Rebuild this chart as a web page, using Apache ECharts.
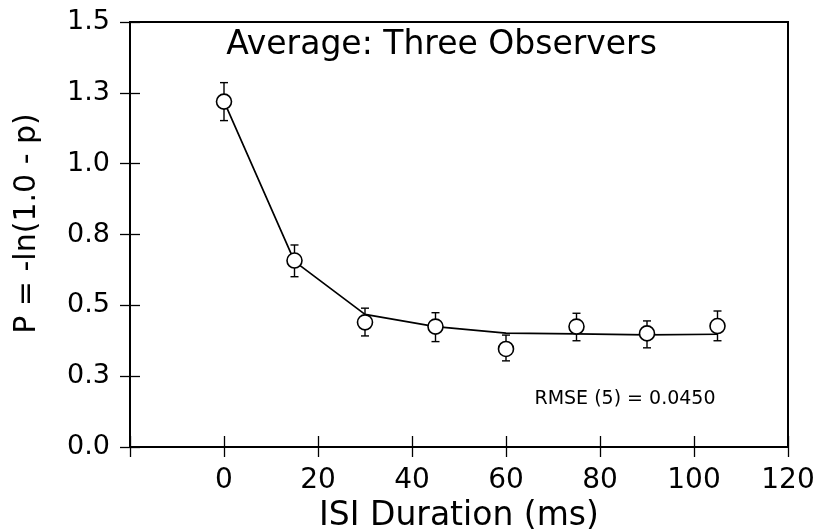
<!DOCTYPE html>
<html>
<head>
<meta charset="utf-8">
<script src="https://cdn.jsdelivr.net/npm/echarts@6/dist/echarts.min.js"></script>
<style>
html,body{margin:0;padding:0;background:#fff;}
#chart{width:818px;height:529px;}
</style>
</head>
<body>
<div id="chart"></div>
<script>
// ---- data ----
var isiDurations = [0, 15, 30, 45, 60, 75, 90, 105];
var meanP       = [1.219, 0.658, 0.440, 0.425, 0.346, 0.425, 0.401, 0.427];
var errLow      = [1.152, 0.601, 0.392, 0.372, 0.304, 0.375, 0.350, 0.375];
var errHigh     = [1.286, 0.713, 0.490, 0.474, 0.395, 0.472, 0.445, 0.480];
var fitP        = [1.220, 0.655, 0.468, 0.425, 0.402, 0.399, 0.396, 0.398];
var xTickValues = [-20, 0, 20, 40, 60, 80, 100, 120];
var xTickLabels = ['', '0', '20', '40', '60', '80', '100', '120'];
var yTickValues = [0, 0.25, 0.5, 0.75, 1.0, 1.25, 1.5];
var yTickLabels = ['0.0', '0.3', '0.5', '0.8', '1.0', '1.3', '1.5'];
var titleText = 'Average: Three Observers';
var rmseText = 'RMSE (5) = 0.0450';
var xName = 'ISI Duration (ms)';
var yName = 'P = -ln(1.0 - p)';

var FONT = 'DejaVu Sans';
function lookup(values, labels, v) {
  for (var i = 0; i < values.length; i++) {
    if (Math.abs(values[i] - v) < 1e-6) return labels[i];
  }
  return '';
}

var points = isiDurations.map(function (x, i) { return [x, meanP[i]]; });
var fitLine = isiDurations.map(function (x, i) { return [x, fitP[i]]; });
var bars = isiDurations.map(function (x, i) { return [x, errLow[i], errHigh[i]]; });

var chart = echarts.init(document.getElementById('chart'), null, {renderer: 'canvas'});
var baseX = {
  type: 'value', min: -20, max: 120, interval: 20, position: 'bottom', gridIndex: 0,
  splitLine: {show: false}
};
var baseY = {
  type: 'value', min: 0, max: 1.5, interval: 0.25, position: 'left', gridIndex: 0,
  splitLine: {show: false}
};
var option = {
  backgroundColor: '#ffffff',
  animation: false,
  grid: {left: 130, right: 30, top: 22, bottom: 82, show: true, containLabel: false,
         outerBoundsMode: 'none',
         borderColor: '#000', borderWidth: 2, backgroundColor: 'transparent'},
  xAxis: [
    Object.assign({}, baseX, {
      name: xName, nameLocation: 'middle', nameGap: 51,
      nameTextStyle: {fontFamily: FONT, fontSize: 33, color: '#000'},
      axisLine: {show: true, onZero: false, lineStyle: {color: '#000', width: 2}},
      axisTick: {show: true, inside: false, length: 10, lineStyle: {color: '#000', width: 1.3}},
      axisLabel: {show: true, margin: 20, fontFamily: FONT, fontSize: 28, color: '#000',
        formatter: function (v) { return lookup(xTickValues, xTickLabels, v); }}
    }),
    Object.assign({}, baseX, {
      axisLine: {show: false, onZero: false},
      axisTick: {show: true, inside: true, length: 11, lineStyle: {color: '#000', width: 1.3}},
      axisLabel: {show: false}
    })
  ],
  yAxis: [
    Object.assign({}, baseY, {
      name: yName, nameLocation: 'middle', nameGap: 88,
      nameTextStyle: {fontFamily: FONT, fontSize: 30, color: '#000', padding: [0, 0, 0, 22]},
      axisLine: {show: true, onZero: false, lineStyle: {color: '#000', width: 2}},
      axisTick: {show: true, inside: false, length: 10, lineStyle: {color: '#000', width: 1.3}},
      axisLabel: {show: true, margin: 20, fontFamily: FONT, fontSize: 27, color: '#000',
        formatter: function (v) { return lookup(yTickValues, yTickLabels, v); }}
    }),
    Object.assign({}, baseY, {
      axisLine: {show: false, onZero: false},
      axisTick: {show: true, inside: true, length: 10, lineStyle: {color: '#000', width: 1.3}},
      axisLabel: {show: false}
    })
  ],
  graphic: [
    {type: 'text', z: 10,
     style: {text: titleText, x: 441.5, y: 45, font: '33px "DejaVu Sans"', fill: '#000',
             textAlign: 'center', textVerticalAlign: 'middle'}},
    {type: 'text', z: 10,
     style: {text: rmseText, x: 625, y: 399, font: '19px "DejaVu Sans"', fill: '#000',
             textAlign: 'center', textVerticalAlign: 'middle'}}
  ],
  series: [
    {
      type: 'line', data: fitLine, xAxisIndex: 0, yAxisIndex: 0,
      showSymbol: false, symbol: 'none', smooth: false, z: 2,
      lineStyle: {color: '#000', width: 1.7}
    },
    {
      type: 'custom', data: bars, xAxisIndex: 0, yAxisIndex: 0, z: 3,
      renderItem: function (params, api) {
        var x = api.value(0);
        var lo = api.coord([x, api.value(1)]);
        var hi = api.coord([x, api.value(2)]);
        var cap = 4;
        var st = {stroke: '#000', lineWidth: 1.4};
        return {type: 'group', children: [
          {type: 'line', shape: {x1: lo[0], y1: lo[1], x2: hi[0], y2: hi[1]}, style: st},
          {type: 'line', shape: {x1: lo[0] - cap, y1: lo[1], x2: lo[0] + cap, y2: lo[1]}, style: st},
          {type: 'line', shape: {x1: hi[0] - cap, y1: hi[1], x2: hi[0] + cap, y2: hi[1]}, style: st}
        ]};
      }
    },
    {
      type: 'scatter', data: points, xAxisIndex: 0, yAxisIndex: 0, z: 5,
      symbol: 'circle', symbolSize: 15,
      itemStyle: {color: '#fff', borderColor: '#000', borderWidth: 1.6, opacity: 1}
    }
  ]
};
chart.setOption(option);
</script>
</body>
</html>
